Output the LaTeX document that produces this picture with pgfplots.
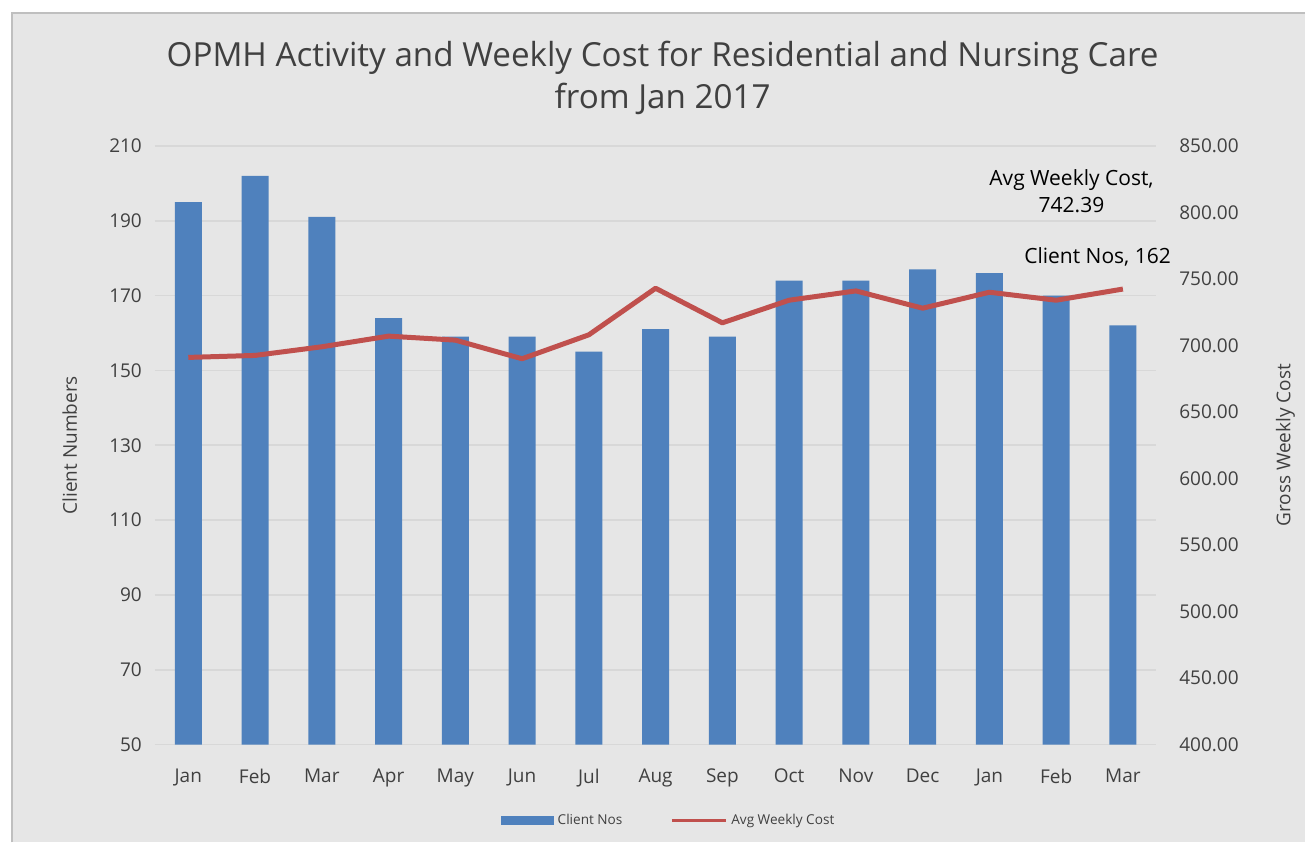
\documentclass[border=0pt]{standalone}
\usepackage{fontspec}
\setmainfont{Open Sans}
\usepackage{pgfplots}
\pgfplotsset{compat=1.18}
\definecolor{bg}{HTML}{E6E6E6}
\definecolor{gridc}{HTML}{D8D8D8}
\definecolor{barblue}{HTML}{4F81BD}
\definecolor{linered}{HTML}{C0504D}
\definecolor{txt}{HTML}{404040}
\begin{document}
\begin{tikzpicture}
\fill[white] (0,0) rectangle (653pt,421.5pt);
\fill[bg] (6pt,0) rectangle (653pt,415pt);
\draw[gray!50, line width=0.8pt] (6pt,0) -- (6pt,415pt) -- (653pt,415pt);
\node[align=center, font=\fontsize{16.6}{21}\selectfont, text=txt] at (331.5pt,382.5pt)
  {OPMH Activity and Weekly Cost for Residential and Nursing Care\\from Jan 2017};
\begin{axis}[
  at={(77.5pt,49pt)}, anchor=south west, scale only axis,
  width=501pt, height=299.5pt,
  xmin=-0.5, xmax=14.5, ymin=50, ymax=210,
  ytick={50,70,...,210},
  xtick={0,...,14},
  xticklabels={Jan,Feb,Mar,Apr,May,Jun,Jul,Aug,Sep,Oct,Nov,Dec,Jan,Feb,Mar},
  axis line style={draw=none},
  major tick length=0pt,
  ymajorgrids, grid style={gridc, line width=0.8pt},
  tick label style={font=\fontsize{9.5}{11}\selectfont, text=txt},
  xticklabel style={yshift=-8.5pt},
  yticklabel style={xshift=-3pt},
  /pgf/number format/assume math mode=true,
  ylabel={Client Numbers},
  ylabel style={at={(axis description cs:-0.085,0.5)}, anchor=center, font=\fontsize{9.5}{11}\selectfont, text=txt},
]
\addplot[ybar, bar width=13.5pt, fill=barblue, draw=none] coordinates {
(0,195) (1,202) (2,191) (3,164) (4,159) (5,159) (6,155) (7,161)
(8,159) (9,174) (10,174) (11,177) (12,176) (13,170) (14,162)};
\end{axis}
\begin{axis}[
  at={(77.5pt,49pt)}, anchor=south west, scale only axis,
  width=501pt, height=299.5pt, clip=false,
  xmin=-0.5, xmax=14.5, ymin=400, ymax=850,
  ytick={400,450,...,850},
  axis x line=none, axis y line*=right,
  axis line style={draw=none},
  major tick length=0pt,
  tick label style={font=\fontsize{9.5}{11}\selectfont, text=txt},
  yticklabel style={xshift=8pt, /pgf/number format/.cd, fixed, fixed zerofill, precision=2},
  /pgf/number format/assume math mode=true,
  ylabel={Gross Weekly Cost},
  ylabel style={at={(axis description cs:1.129,0.5)}, anchor=center, font=\fontsize{9.5}{11}\selectfont, text=txt},
  legend style={at={(0.514,-0.127)}, anchor=center, draw=none, fill=none,
    legend columns=2, font=\fontsize{6.8}{8}\selectfont, text=txt,
    /tikz/every even column/.append style={column sep=22pt}},
]
\addlegendimage{legend image code/.code={\fill[barblue] (0pt,-2pt) rectangle (26pt,2pt);}}
\addlegendentry{Client Nos}
\addlegendimage{legend image code/.code={\draw[linered, line width=1.5pt] (0pt,0pt) -- (27pt,0pt);}}
\addlegendentry{Avg Weekly Cost}
\addplot[linered, line width=2.5pt, line join=round, mark=none] coordinates {
(0,691) (1,692.5) (2,699) (3,707) (4,704) (5,690) (6,708) (7,743)
(8,717) (9,734) (10,741) (11,728) (12,740) (13,734) (14,742.39)};
\node[align=center, font=\fontsize{10.5}{13.5}\selectfont, text=black] at (axis cs:13.23,816) {Avg Weekly Cost,\\742.39};
\node[font=\fontsize{10.5}{11}\selectfont, text=black] at (axis cs:13.62,766.6) {Client Nos, 162};
\end{axis}
\end{tikzpicture}
\end{document}
